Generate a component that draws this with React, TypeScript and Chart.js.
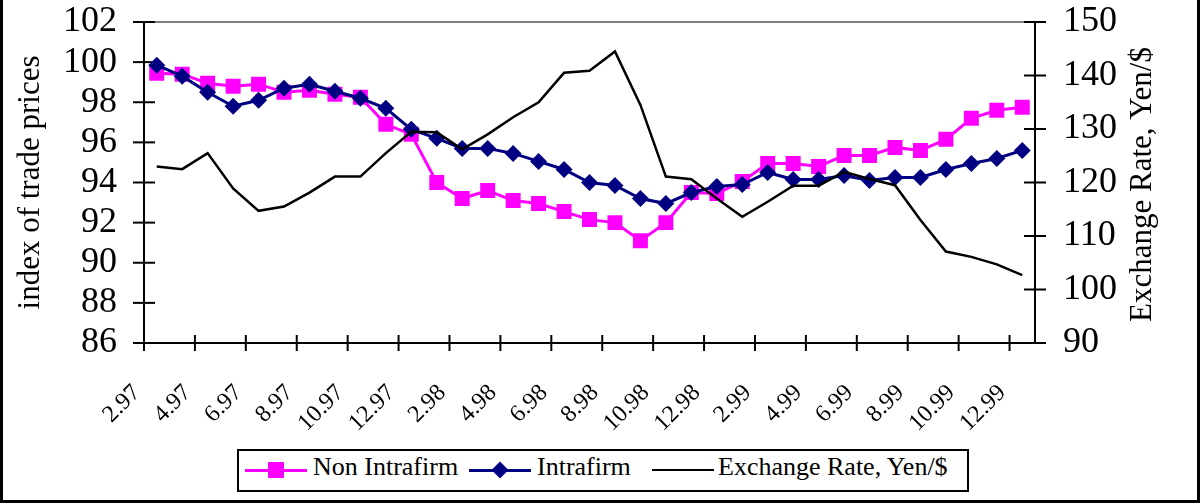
import React, { useEffect, useRef } from "react";
import { Chart, registerables } from "chart.js";

Chart.register(...registerables);

// ---- Data ----
const months = [
  "2.97", "3.97", "4.97", "5.97", "6.97", "7.97", "8.97", "9.97", "10.97", "11.97", "12.97",
  "1.98", "2.98", "3.98", "4.98", "5.98", "6.98", "7.98", "8.98", "9.98", "10.98", "11.98", "12.98",
  "1.99", "2.99", "3.99", "4.99", "5.99", "6.99", "7.99", "8.99", "9.99", "10.99", "11.99", "12.99",
];

const nonIntrafirm = [
  99.45, 99.4, 98.95, 98.8, 98.9, 98.5, 98.6, 98.4, 98.25, 96.9, 96.4,
  94.0, 93.2, 93.6, 93.1, 92.95, 92.55, 92.15, 92.0, 91.1, 92.0, 93.5, 93.45,
  94.05, 94.95, 94.95, 94.8, 95.35, 95.35, 95.75, 95.6, 96.15, 97.2, 97.6, 97.75,
];

const intrafirm = [
  99.85, 99.3, 98.5, 97.8, 98.1, 98.7, 98.9, 98.55, 98.2, 97.7, 96.65,
  96.2, 95.7, 95.7, 95.45, 95.05, 94.65, 94.0, 93.85, 93.2, 92.95, 93.5, 93.8,
  93.9, 94.5, 94.15, 94.15, 94.35, 94.1, 94.25, 94.25, 94.65, 94.95, 95.2, 95.6,
];

const exchangeRate = [
  123.0, 122.5, 125.5, 118.9, 114.7, 115.5, 118.1, 121.1, 121.1, 125.5, 129.5,
  129.4, 126.2, 129.0, 132.2, 135.0, 140.5, 140.9, 144.5, 134.5, 121.1, 120.6, 117.0,
  113.6, 116.4, 119.4, 119.4, 122.0, 120.65, 119.5, 113.0, 107.1, 106.1, 104.7, 102.7,
];

const leftMin = 86;
const leftMax = 102;
const leftStep = 2;
const rightMin = 90;
const rightMax = 150;
const rightStep = 10;
const labelEvery = 2;

const leftTitle = "index of trade prices";
const rightTitle = "Exchange Rate, Yen/$";
const seriesNames = ["Non Intrafirm", "Intrafirm", "Exchange Rate, Yen/$"];

const PINK = "#FF00FF";
const NAVY = "#000080";
const BLACK = "#000000";
const FONT = "'Liberation Serif', 'Times New Roman', serif";

const excelAxesPlugin = {
  id: "excelAxes",
  beforeDatasetsDraw(chart: any) {
    const { ctx, chartArea, scales } = chart;
    const { left, right, top, bottom } = chartArea;
    const seg = (x1: number, y1: number, x2: number, y2: number) => {
      ctx.beginPath();
      ctx.moveTo(x1, y1);
      ctx.lineTo(x2, y2);
      ctx.stroke();
    };
    ctx.save();
    // top border (gray)
    ctx.strokeStyle = "#808080";
    ctx.lineWidth = 2;
    seg(left, top, right, top);
    // axes
    ctx.strokeStyle = BLACK;
    ctx.lineWidth = 2;
    seg(left, top - 1, left, bottom + 1);
    seg(right, top - 1, right, bottom + 1);
    seg(left, bottom, right, bottom);
    // left ticks
    scales.y.ticks.forEach((t: any) => {
      const py = scales.y.getPixelForValue(t.value);
      seg(left - 11, py, left + 11, py);
    });
    // right ticks
    scales.y1.ticks.forEach((t: any) => {
      const py = scales.y1.getPixelForValue(t.value);
      seg(right - 11, py, right + 11, py);
    });
    // x ticks at category boundaries
    const xs = scales.x;
    const half = (xs.getPixelForValue(1) - xs.getPixelForValue(0)) / 2;
    for (let i = 0; i < months.length; i += labelEvery) {
      const px = xs.getPixelForValue(i) - half;
      seg(px, bottom - 8, px, bottom + 8);
    }
    ctx.restore();
  },
  afterDraw(chart: any) {
    const { ctx, chartArea } = chart;
    const midY = (chartArea.top + chartArea.bottom) / 2;
    ctx.save();
    ctx.fillStyle = BLACK;
    ctx.font = `31px ${FONT}`;
    ctx.textAlign = "center";
    ctx.textBaseline = "alphabetic";
    ctx.save();
    ctx.translate(39, midY);
    ctx.rotate(-Math.PI / 2);
    ctx.fillText(leftTitle, 0, 0);
    ctx.restore();
    ctx.save();
    ctx.translate(chartArea.right + 116, midY + 2);
    ctx.rotate(-Math.PI / 2);
    ctx.fillText(rightTitle, 0, 0);
    ctx.restore();
    ctx.restore();
  },
};

function LegendSample({ color, width, marker }: { color: string; width: number; marker: "square" | "diamond" | "none" }) {
  return (
    <div style={{ position: "relative", width: 62, height: 24 }}>
      <div
        style={{
          position: "absolute",
          left: 0,
          right: 0,
          top: 12 - width / 2,
          height: width,
          background: color,
        }}
      />
      {marker === "square" && (
        <div style={{ position: "absolute", left: 23, top: 4, width: 16, height: 16, background: color }} />
      )}
      {marker === "diamond" && (
        <div
          style={{
            position: "absolute",
            left: 25,
            top: 6,
            width: 12,
            height: 12,
            background: color,
            transform: "rotate(45deg)",
          }}
        />
      )}
    </div>
  );
}

export default function App() {
  const canvasRef = useRef<HTMLCanvasElement | null>(null);

  useEffect(() => {
    if (!canvasRef.current) return;
    const fixVertical = (w: number) => (s: any) => {
      s.width = w;
      s.paddingTop = 0;
      s.paddingBottom = 0;
    };
    const chart = new Chart(canvasRef.current, {
      type: "line",
      data: {
        labels: months,
        datasets: [
          {
            label: seriesNames[0],
            data: nonIntrafirm,
            yAxisID: "y",
            borderColor: PINK,
            backgroundColor: PINK,
            borderWidth: 3,
            pointStyle: "rect",
            pointRadius: 10.6,
            pointBorderWidth: 0,
            pointBackgroundColor: PINK,
            tension: 0,
            order: 2,
          },
          {
            label: seriesNames[1],
            data: intrafirm,
            yAxisID: "y",
            borderColor: NAVY,
            backgroundColor: NAVY,
            borderWidth: 3,
            pointStyle: "rectRot",
            pointRadius: 8.5,
            pointBorderWidth: 0,
            pointBackgroundColor: NAVY,
            tension: 0,
            order: 1,
          },
          {
            label: seriesNames[2],
            data: exchangeRate,
            yAxisID: "y1",
            borderColor: BLACK,
            backgroundColor: BLACK,
            borderWidth: 2.5,
            pointRadius: 0,
            tension: 0,
            order: 0,
          },
        ],
      },
      options: {
        animation: false,
        responsive: false,
        maintainAspectRatio: false,
        layout: { autoPadding: false, padding: { top: 22, left: 0, right: 0, bottom: 0 } },
        plugins: {
          legend: { display: false },
          tooltip: { enabled: false },
        },
        scales: {
          x: {
            type: "category",
            offset: true,
            grid: { display: false, drawTicks: false },
            border: { display: false },
            ticks: {
              autoSkip: false,
              maxRotation: 45,
              minRotation: 45,
              color: BLACK,
              padding: 36,
              labelOffset: -20,
              font: { family: FONT, size: 24 },
              callback: (_v: any, i: number) => (i % labelEvery === 0 ? months[i] : ""),
            },
            afterFit: (s: any) => {
              s.height = 160;
              s.paddingLeft = 0;
              s.paddingRight = 0;
            },
          },
          y: {
            position: "left",
            min: leftMin,
            max: leftMax,
            grid: { display: false, drawTicks: false },
            border: { display: false },
            ticks: {
              stepSize: leftStep,
              autoSkip: false,
              color: BLACK,
              padding: 27,
              font: { family: FONT, size: 36, lineHeight: 1 },
            },
            afterFit: fixVertical(144),
          },
          y1: {
            position: "right",
            min: rightMin,
            max: rightMax,
            grid: { display: false, drawTicks: false },
            border: { display: false },
            ticks: {
              stepSize: rightStep,
              autoSkip: false,
              color: BLACK,
              padding: 28,
              font: { family: FONT, size: 36, lineHeight: 1 },
            },
            afterFit: fixVertical(166),
          },
        },
      },
      plugins: [excelAxesPlugin],
    } as any);
    return () => chart.destroy();
  }, []);

  const textStyle: React.CSSProperties = {
    position: "absolute",
    top: 454,
    fontFamily: FONT,
    fontSize: 26,
    lineHeight: "26px",
    whiteSpace: "nowrap",
    color: BLACK,
  };

  return (
    <div style={{ position: "absolute", left: 0, top: 0, width: 1201, height: 503, background: "#fff", overflow: "hidden" }}>
      <canvas ref={canvasRef} width={1201} height={503} style={{ position: "absolute", left: 0, top: 0, display: "block" }} />
      {/* legend box */}
      <div
        style={{
          position: "absolute",
          left: 237,
          top: 449,
          width: 732,
          height: 43,
          border: "2px solid #000",
          boxSizing: "border-box",
          background: "#fff",
        }}
      />
      <div style={{ position: "absolute", left: 245, top: 458 }}>
        <LegendSample color={PINK} width={3} marker="square" />
      </div>
      <div style={{ ...textStyle, left: 313 }}>{seriesNames[0]}</div>
      <div style={{ position: "absolute", left: 469, top: 458 }}>
        <LegendSample color={NAVY} width={3} marker="diamond" />
      </div>
      <div style={{ ...textStyle, left: 537 }}>{seriesNames[1]}</div>
      <div style={{ position: "absolute", left: 652, top: 458 }}>
        <LegendSample color={BLACK} width={2.5} marker="none" />
      </div>
      <div style={{ ...textStyle, left: 718 }}>{seriesNames[2]}</div>
      {/* outer frame */}
      <div
        style={{
          position: "absolute",
          left: 0,
          top: 0,
          width: 1200,
          height: 503,
          borderLeft: "3px solid #000",
          borderRight: "3px solid #000",
          borderBottom: "3px solid #000",
          boxSizing: "border-box",
          pointerEvents: "none",
        }}
      />
    </div>
  );
}
